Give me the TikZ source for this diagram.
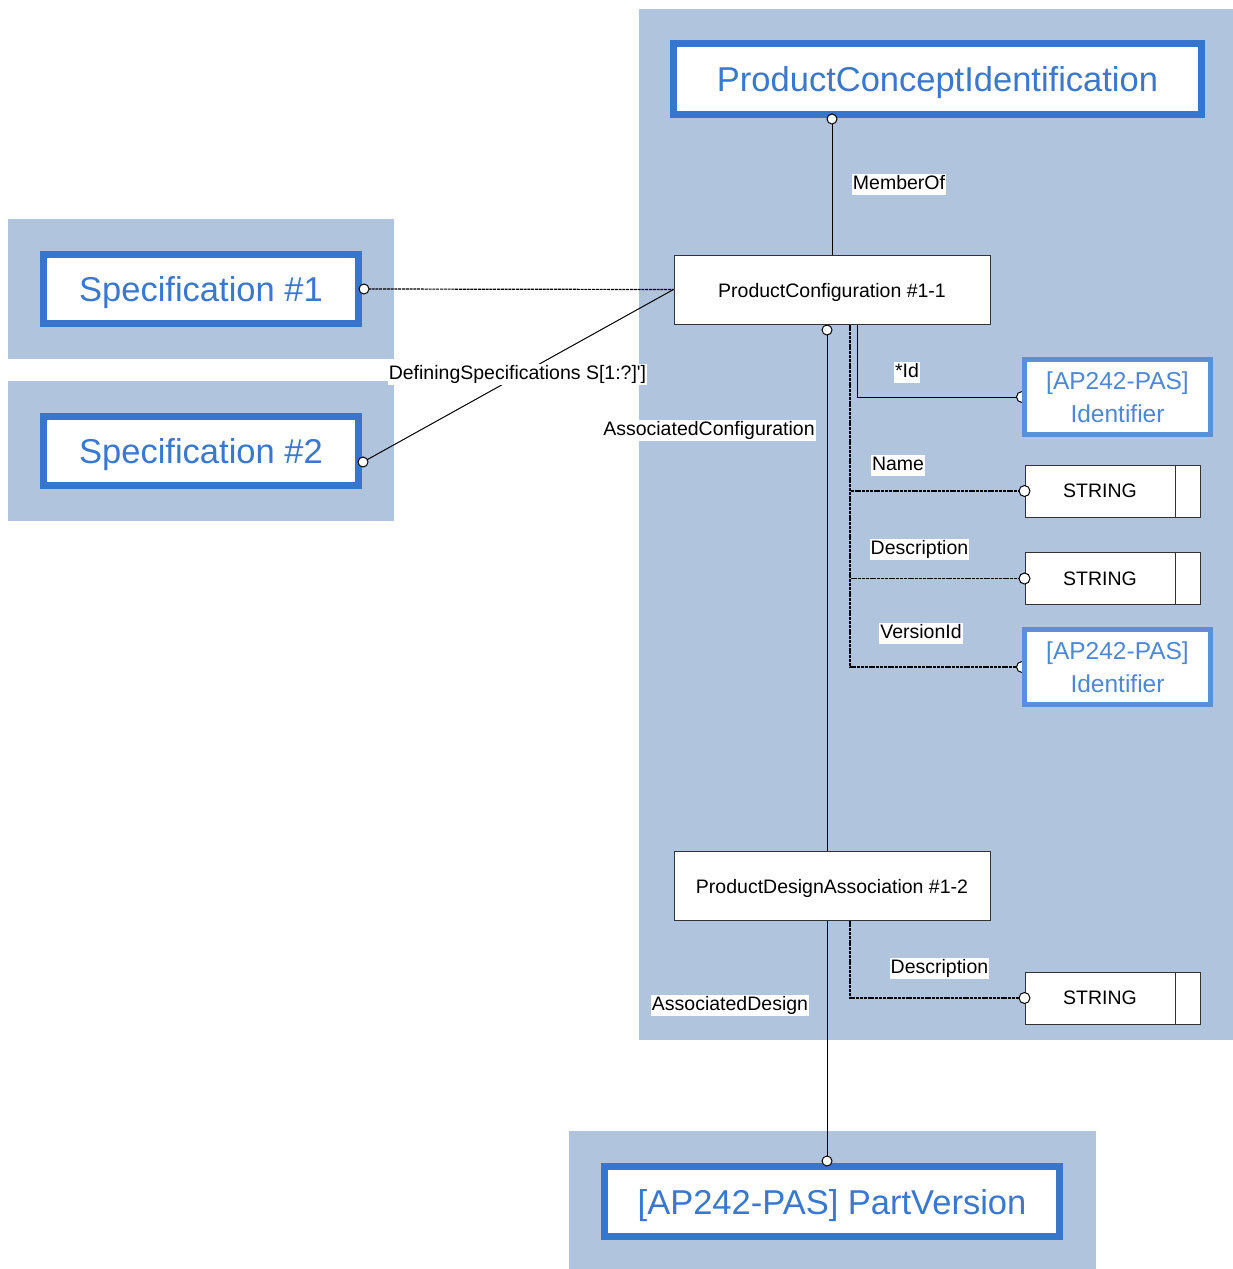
\documentclass[tikz,border=0pt]{standalone}
\usepackage{fontspec}
\setmainfont{Liberation Sans}
\usetikzlibrary{calc}
\pgfdeclarelayer{bg}
\pgfdeclarelayer{conn}
\pgfsetlayers{bg,conn,main}
\definecolor{panel}{HTML}{B0C4DE}
\definecolor{bluebd}{HTML}{3676CF}
\definecolor{bluetx}{HTML}{3A78D0}
\definecolor{idbd}{HTML}{5B8FD8}
\definecolor{idtx}{HTML}{4D88D6}
\definecolor{edge}{HTML}{333333}
\tikzset{
  bigbox/.style={draw=bluebd, line width=7pt, fill=white, text=bluetx, font=\fontsize{34.5}{40}\selectfont, inner sep=0pt, text height=32pt, text depth=7pt},
  idbox/.style={draw=idbd, line width=5pt, fill=white, text=idtx, align=center, font=\fontsize{24.5}{33}\selectfont, minimum width=186pt, minimum height=75pt, inner sep=0pt},
  entbox/.style={draw=edge, line width=1pt, fill=white, font=\fontsize{19.5}{22}\selectfont, minimum width=316pt, minimum height=69pt, inner sep=0pt, text height=19pt, text depth=4pt},
  strbox/.style={draw=edge, line width=1pt, fill=white, font=\fontsize{19.5}{22}\selectfont, minimum width=175pt, minimum height=52pt, inner sep=0pt, text height=17pt, text depth=4pt},
  lbl/.style={fill=white, inner sep=1pt, font=\fontsize{19.5}{22}\selectfont, text height=15pt, text depth=4pt},
  sconn/.style={line width=1pt, draw=black},
  dconn/.style={line width=1.2pt, draw=black, dash pattern=on 3pt off 0.8pt},
  endc/.style={draw=black, fill=white, line width=1pt},
}
\begin{document}
\begin{tikzpicture}[x=1pt,y=-1pt]
\useasboundingbox (0,0) rectangle (1233,1269);
\begin{pgfonlayer}{bg}
  \fill[panel] (639,9) rectangle (1233,1040);
  \fill[panel] (8,219) rectangle (394,359);
  \fill[panel] (8,381) rectangle (394,521);
  \fill[panel] (569,1131) rectangle (1096,1269);
\end{pgfonlayer}

% nodes
\node[bigbox, minimum width=528pt, minimum height=71pt] (pci) at (937.5,79) {ProductConceptIdentification};
\node[bigbox, minimum width=315pt, minimum height=69pt] (sp1) at (201,289) {Specification \#1};
\node[bigbox, minimum width=315pt, minimum height=69pt] (sp2) at (201,451) {Specification \#2};
\node[bigbox, minimum width=455pt, minimum height=70pt] (pv) at (832,1201.5) {[AP242-PAS] PartVersion};
\node[entbox] (pc) at (832,289.5) {ProductConfiguration \#1-1};
\node[entbox] (pda) at (832,885.5) {ProductDesignAssociation \#1-2};
\node[idbox] (id1) at (1117.5,397) {[AP242-PAS]\\Identifier};
\node[idbox] (id2) at (1117.5,667) {[AP242-PAS]\\Identifier};
\node[strbox] (st1) at (1112.5,491) {\makebox[150pt]{STRING}\makebox[25pt]{}};
\node[strbox] (st2) at (1112.5,578.5) {\makebox[150pt]{STRING}\makebox[25pt]{}};
\node[strbox] (st3) at (1112.5,998) {\makebox[150pt]{STRING}\makebox[25pt]{}};
\foreach \s in {st1,st2,st3}{
  \draw[line width=1pt, edge] ($(\s.north east)+(-25,0.5)$) -- ($(\s.south east)+(-25,-0.5)$);
}

% coordinates for connector ends
\coordinate (cpci) at ($(pc.north |- pci.south)+(0,1)$);
\coordinate (csp1) at ($(sp1.east)+(2,0)$);
\coordinate (csp2) at ($(sp2.east)+(1,11)$);
\coordinate (cac) at ($(pc.south)+(-5,5.5)$);
\coordinate (cad) at ($(pv.north)+(-5,-2)$);
\coordinate (cid) at ($(pc.south)+(25,0)$);
\coordinate (cnv) at ($(pc.south)+(18,0)$);
\coordinate (cdv) at ($(pda.south)+(18,0)$);

\begin{pgfonlayer}{conn}
  \draw[sconn] (cpci) -- (pc.north);
  \draw[dconn] (csp1) -- (pc.west);
  \draw[sconn] (csp2) -- (pc.west);
  \draw[sconn] (cac) -- (cac |- pda.north);
  \draw[sconn] (cad |- pda.south) -- (cad);
  \draw[sconn] (cid) |- (id1.west);
  \draw[dconn] (cnv) |- (st1.west);
  \draw[dconn] (cnv) |- (st2.west);
  \draw[dconn] (cnv) |- (id2.west);
  \draw[dconn] (cdv) |- (st3.west);
  \draw[endc] (id1.west) circle (5.5pt);
  \draw[endc] (id2.west) circle (5.5pt);
\end{pgfonlayer}

% end circles
\draw[endc] (cpci) circle (5pt);
\draw[endc] (csp1) circle (5pt);
\draw[endc] (csp2) circle (5pt);
\draw[endc] (cac) circle (5pt);
\draw[endc] (cad) circle (5pt);
\draw[endc] (st1.west) circle (5.5pt);
\draw[endc] (st2.west) circle (5.5pt);
\draw[endc] (st3.west) circle (5.5pt);

% labels
\node[lbl] (lmo) at (899,184) {MemberOf};
\node[lbl] (lds) at (517.5,374) {DefiningSpecifications S[1:?]\textquotesingle]};
\node[lbl] (lac) at (709,430) {AssociatedConfiguration};
\node[lbl] (lid) at (907,372) {*Id};
\node[lbl] (lnm) at (898,465) {Name};
\node[lbl] (lde) at (919.5,549) {Description};
\node[lbl] (lvi) at (921,633) {VersionId};
\node[lbl] (lde2) at (939.5,968) {Description};
\node[lbl] (lad) at (730,1005) {AssociatedDesign};
\end{tikzpicture}
\end{document}
